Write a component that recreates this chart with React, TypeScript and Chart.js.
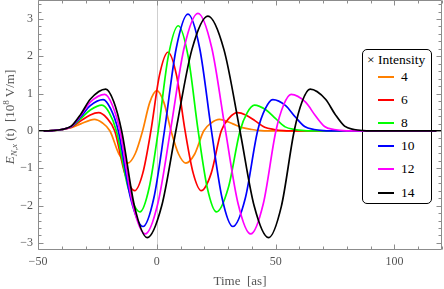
import React, { useEffect, useRef } from "react";
import { Chart, registerables } from "chart.js";
Chart.register(...registerables);

const intensities = ["4", "6", "8", "10", "12", "14"];
const colors = ["#ff8000", "#ff0000", "#00ff00", "#0000ff", "#ff00ff", "#000000"];
const xTicks = [-50, 0, 50, 100];
const yTicks = [-3, -2, -1, 0, 1, 2, 3];

type P = [number, number];
const orange: P[] = [[-50,0],[-44,0.01],[-40,0.04],[-36,0.09],[-32,0.19],[-28,0.29],[-26.3,0.31],[-23,0.22],[-19.7,0],[-16,-0.61],[-12.2,-0.86],[-9.1,-0.61],[-6,0],[-3,0.76],[0,1.08],[3,0.76],[6,0],[9.1,-0.61],[12.2,-0.86],[16,-0.61],[19.7,0],[23,0.22],[26.3,0.31],[28,0.29],[32,0.19],[36,0.09],[40,0.04],[44,0.01],[50,0],[120,0]];
const red: P[] = [[-50,0],[-44,0.01],[-40,0.04],[-36,0.10],[-32,0.27],[-28,0.43],[-24.5,0.49],[-21.1,0.35],[-17.7,0],[-13.5,-1.13],[-9.3,-1.6],[-5.9,-1.13],[-2.5,0],[1.1,1.49],[4.7,2.11],[8.3,1.49],[11.9,0],[15.3,-1.13],[18.7,-1.6],[22.9,-1.13],[27.1,0],[30.5,0.35],[33.9,0.49],[37.4,0.43],[41.4,0.27],[45.4,0.10],[49.4,0.04],[53.4,0.01],[59.4,0],[120,0]];
const green: P[] = [[-50,0],[-44,0.01],[-40,0.04],[-36,0.11],[-32,0.33],[-28,0.56],[-23.1,0.69],[-20.05,0.49],[-17,0],[-12.05,-1.53],[-7.1,-2.17],[-3.25,-1.53],[0.6,0],[4.8,1.99],[9,2.82],[13.2,1.99],[17.4,0],[21.25,-1.53],[25.1,-2.17],[30.05,-1.53],[35,0],[38.05,0.49],[41.1,0.69],[46,0.56],[50,0.33],[54,0.11],[58,0.04],[62,0.01],[68,0],[120,0]];
const blue: P[] = [[-50,0],[-44,0.01],[-40,0.04],[-36,0.12],[-32,0.38],[-28,0.68],[-22.6,0.84],[-19.4,0.59],[-16.2,0],[-11,-1.81],[-5.8,-2.56],[-1.3,-1.81],[3.2,0],[8.15,2.21],[13.1,3.13],[18.05,2.21],[23,0],[27.5,-1.81],[32,-2.56],[37.2,-1.81],[42.4,0],[45.6,0.59],[48.8,0.84],[54.2,0.68],[58.2,0.38],[62.2,0.12],[66.2,0.04],[70.2,0.01],[76.2,0],[120,0]];
const magenta: P[] = [[-50,0],[-44,0.01],[-40,0.04],[-36,0.12],[-32,0.42],[-28,0.77],[-21.9,0.98],[-18.7,0.69],[-15.5,0],[-10.2,-1.95],[-4.9,-2.76],[0.4,-1.95],[5.7,0],[11.5,2.23],[17.3,3.15],[23.1,2.23],[28.9,0],[34.2,-1.95],[39.5,-2.76],[44.8,-1.95],[50.1,0],[53.3,0.69],[56.5,0.98],[62.6,0.77],[66.6,0.42],[70.6,0.12],[74.6,0.04],[78.6,0.01],[84.6,0],[120,0]];
const black: P[] = [[-50,0],[-44,0.01],[-40,0.04],[-36,0.13],[-32,0.45],[-28,0.85],[-21.5,1.12],[-18.15,0.79],[-14.8,0],[-9.4,-2.02],[-4,-2.86],[2,-2.02],[8,0],[14.75,2.18],[21.5,3.08],[28.25,2.18],[35,0],[41,-2.02],[47,-2.86],[52.4,-2.02],[57.8,0],[61.15,0.79],[64.5,1.12],[71,0.85],[75,0.45],[79,0.13],[83,0.04],[87,0.01],[93,0],[120,0]];
const series = [orange, red, green, blue, magenta, black];

const FONT = "'Liberation Serif', 'Times New Roman', serif";
const fmt = (v: any) => String(v).replace("-", "\u2212");

const framePlugin = {
  id: "mmaFrame",
  beforeDatasetsDraw(chart: any) {
    const { ctx, chartArea: a, scales } = chart;
    const x = scales.x, y = scales.y;
    ctx.save();
    ctx.strokeStyle = "#cfcfcf";
    ctx.lineWidth = 1;
    const x0 = Math.round(x.getPixelForValue(0)) + 0.5;
    const y0 = Math.round(y.getPixelForValue(0)) + 0.5;
    ctx.beginPath();
    ctx.moveTo(x0, a.top); ctx.lineTo(x0, a.bottom);
    ctx.moveTo(a.left, y0); ctx.lineTo(a.right, y0);
    ctx.stroke();
    ctx.restore();
  },
  afterDatasetsDraw(chart: any) {
    const { ctx, chartArea: a, scales } = chart;
    const x = scales.x, y = scales.y;
    ctx.save();
    ctx.strokeStyle = "#8c8c8c";
    ctx.lineWidth = 1;
    const L = a.left + 0.5, R = a.right - 0.5, T = a.top + 0.5, B = a.bottom - 0.5;
    ctx.beginPath();
    ctx.rect(L, T, R - L, B - T);
    for (let v = -50; v <= 120.001; v += 10) {
      const px = Math.round(x.getPixelForValue(v)) + 0.5;
      const len = xTicks.includes(Math.round(v)) ? 5 : 3;
      ctx.moveTo(px, B); ctx.lineTo(px, B - len);
      ctx.moveTo(px, T); ctx.lineTo(px, T + len);
    }
    for (let i = -16; i <= 17; i++) {
      const v = i * 0.2;
      const py = Math.round(y.getPixelForValue(v)) + 0.5;
      if (py < a.top || py > a.bottom) continue;
      const len = i % 5 === 0 ? 5 : 3;
      ctx.moveTo(L, py); ctx.lineTo(L + len, py);
      ctx.moveTo(R, py); ctx.lineTo(R - len, py);
    }
    ctx.stroke();
    ctx.restore();
  },
};

export default function App() {
  const ref = useRef<HTMLCanvasElement>(null);
  useEffect(() => {
    const chart = new Chart(ref.current as HTMLCanvasElement, {
      type: "line",
      data: {
        datasets: series.map((s, i) => ({
          label: intensities[i],
          data: s.map(([t, v]) => ({ x: t, y: v })),
          borderColor: colors[i],
          backgroundColor: colors[i],
          borderWidth: 1.7,
          pointRadius: 0,
          fill: false,
          cubicInterpolationMode: "monotone" as const,
          order: series.length - i,
        })),
      },
      options: {
        animation: false,
        responsive: false,
        devicePixelRatio: 1,
        layout: { padding: { left: 0, right: 2, top: 0, bottom: 0 } },
        plugins: { legend: { display: false }, tooltip: { enabled: false } },
        scales: {
          x: {
            type: "linear",
            min: -50,
            max: 120,
            afterBuildTicks: (s: any) => { s.ticks = xTicks.map((v) => ({ value: v })); },
            afterFit: (s: any) => { s.height = 39; s.paddingLeft = 0; s.paddingRight = 0; },
            grid: { display: false, drawTicks: false, tickLength: 0 },
            border: { display: false },
            ticks: { font: { family: FONT, size: 12 }, color: "#555", padding: 5, maxRotation: 0, callback: fmt },
            title: { display: true, text: "Time  [as]", font: { family: FONT, size: 13 }, color: "#555", padding: { top: 0, bottom: 0 } },
          },
          y: {
            type: "linear",
            min: -3.19,
            max: 3.51,
            afterBuildTicks: (s: any) => { s.ticks = yTicks.map((v) => ({ value: v })); },
            afterFit: (s: any) => { s.width = 38; s.paddingTop = 0; s.paddingBottom = 0; },
            grid: { display: false, drawTicks: false, tickLength: 0 },
            border: { display: false },
            ticks: { font: { family: FONT, size: 12 }, color: "#555", padding: 5, callback: fmt },
          },
        },
      },
      plugins: [framePlugin],
    });
    return () => chart.destroy();
  }, []);

  const entryTop = [27, 50.1, 73.2, 96.3, 119.4, 142.5];
  return (
    <div style={{ position: "fixed", left: 0, top: 0, width: 444, height: 289, background: "#fff", overflow: "hidden" }}>
      <div style={{ position: "absolute", left: 362, top: 49, width: 70, height: 155, border: "1px solid #000", borderRadius: 5, background: "#fff", boxSizing: "border-box", fontFamily: FONT, fontSize: 13.5, color: "#000", zIndex: 0 }}>
        <div style={{ position: "absolute", left: 4, top: 1.5, whiteSpace: "nowrap", lineHeight: "16px" }}>× Intensity</div>
        {intensities.map((lab, i) => (
          <React.Fragment key={lab}>
            <div style={{ position: "absolute", left: 15, top: entryTop[i] - 1, width: 16, height: 2, background: colors[i] }} />
            <div style={{ position: "absolute", left: 38, top: entryTop[i] - 8, lineHeight: "16px", whiteSpace: "nowrap" }}>{lab}</div>
          </React.Fragment>
        ))}
      </div>
      <canvas ref={ref} width={444} height={289} style={{ position: "absolute", left: 0, top: 0, zIndex: 1, display: "block" }} />
      <div style={{ position: "absolute", left: 10 - 100, top: 117 - 9, width: 200, height: 18, lineHeight: "18px", textAlign: "center", transform: "rotate(-90deg)", fontFamily: FONT, fontSize: 13, color: "#555", whiteSpace: "nowrap", zIndex: 2 }}>
        <i>E</i>
        <sub style={{ fontSize: 9, lineHeight: 0, verticalAlign: -3 }}><i>N,x</i></sub>
        {" (t)\u00a0\u00a0[10"}
        <sup style={{ fontSize: 9, lineHeight: 0, verticalAlign: 5 }}>8</sup>
        {" V/m]"}
      </div>
    </div>
  );
}
